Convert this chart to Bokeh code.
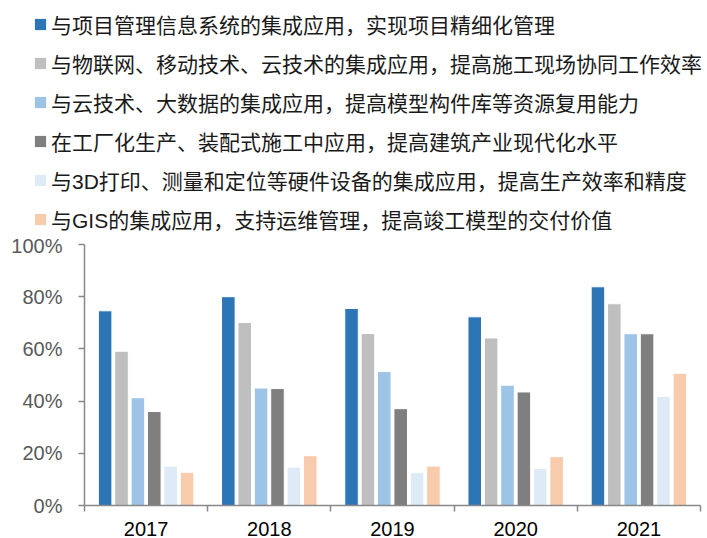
from bokeh.plotting import figure
from bokeh.layouts import column
from bokeh.models import (ColumnDataSource, FixedTicker, NumeralTickFormatter,
                          Legend, LegendItem, Range1d)
from bokeh.embed import file_html
from bokeh.resources import INLINE

years = ["2017", "2018", "2019", "2020", "2021"]
series_names = [
    "与项目管理信息系统的集成应用，实现项目精细化管理",
    "与物联网、移动技术、云技术的集成应用，提高施工现场协同工作效率",
    "与云技术、大数据的集成应用，提高模型构件库等资源复用能力",
    "在工厂化生产、装配式施工中应用，提高建筑产业现代化水平",
    "与3D打印、测量和定位等硬件设备的集成应用，提高生产效率和精度",
    "与GIS的集成应用，支持运维管理，提高竣工模型的交付价值",
]
s1 = [74.6, 80.0, 75.5, 72.3, 83.8]
s2 = [59.1, 70.1, 65.9, 64.2, 77.3]
s3 = [41.3, 45.0, 51.3, 46.1, 65.8]
s4 = [36.0, 44.8, 37.1, 43.5, 65.8]
s5 = [15.1, 14.7, 12.6, 14.2, 41.8]
s6 = [12.7, 19.1, 15.1, 18.7, 50.7]
series_values = [s1, s2, s3, s4, s5, s6]
colors = ["#2E75B6", "#BFBFBF", "#9DC3E6", "#7F7F7F", "#DEEBF7", "#F8CBAD"]
y_ticks = [0, 0.2, 0.4, 0.6, 0.8, 1.0]

W = 707
LEG_H = 234
CH_H = 538 - LEG_H

pitch = 0.133
bar_w = 0.11
sources = []
for k, vals in enumerate(series_values):
    off = (k - 2.5) * pitch
    sources.append(ColumnDataSource(dict(
        x=[i + 0.5 + off for i in range(len(years))],
        top=[v / 100.0 for v in vals])))

# ---- legend panel (own figure, frame = whole canvas) ----
lf = figure(width=W, height=LEG_H, output_backend="svg", toolbar_location=None,
            x_range=Range1d(-3, -2), y_range=Range1d(0, 1),
            x_axis_type=None, y_axis_type=None, min_border=0)
lf.frame_align = False
lf.outline_line_color = None
lf.xgrid.visible = False
lf.ygrid.visible = False
litems = []
for name, col, src in zip(series_names, colors, sources):
    r = lf.vbar(x="x", top="top", width=bar_w, source=src,
                fill_color=col, line_color=None)
    litems.append(LegendItem(label=name, renderers=[r], index=0))
legend = Legend(items=litems, location=(33, 0), orientation="vertical",
                glyph_width=14, glyph_height=14, label_standoff=4,
                label_height=22, spacing=9, padding=0, margin=0,
                label_text_font="'Liberation Sans', 'Noto Sans CJK SC'",
                label_text_font_size="21px", label_text_color="#1a1a1a",
                border_line_color=None, background_fill_alpha=0)
lf.add_layout(legend, "center")

# ---- chart ----
p = figure(width=W, height=CH_H, output_backend="svg", toolbar_location=None,
           x_range=Range1d(0, len(years)), y_range=Range1d(0, 1.0),
           min_border_left=84, min_border_right=7, min_border_top=10,
           min_border_bottom=33)
p.frame_align = False
p.outline_line_color = None
p.xgrid.visible = False
p.ygrid.visible = False

for col, src in zip(colors, sources):
    p.vbar(x="x", top="top", width=bar_w, bottom=0, source=src,
           fill_color=col, line_color="white", line_width=1)

axis_col = "#898989"
p.xaxis.ticker = FixedTicker(ticks=[i + 0.5 for i in range(len(years))],
                             minor_ticks=list(range(len(years) + 1)))
p.xaxis.major_label_overrides = {i + 0.5: y for i, y in enumerate(years)}
p.xaxis.major_tick_out = 0
p.xaxis.major_tick_in = 0
p.xaxis.minor_tick_out = 6
p.xaxis.minor_tick_in = 0
p.xaxis.minor_tick_line_color = axis_col
p.xaxis.minor_tick_line_width = 1.5
p.xaxis.axis_line_color = axis_col
p.xaxis.axis_line_width = 1.5
p.xaxis.major_label_text_font = "Liberation Sans"
p.xaxis.major_label_text_font_size = "20px"
p.xaxis.major_label_text_color = "#000000"
p.xaxis.major_label_standoff = 10

p.yaxis.ticker = FixedTicker(ticks=y_ticks)
p.yaxis.formatter = NumeralTickFormatter(format="0%")
p.yaxis.major_tick_out = 6
p.yaxis.major_tick_in = 0
p.yaxis.minor_tick_out = 0
p.yaxis.minor_tick_in = 0
p.yaxis.major_tick_line_color = axis_col
p.yaxis.major_tick_line_width = 1.5
p.yaxis.axis_line_color = axis_col
p.yaxis.axis_line_width = 1.5
p.yaxis.major_label_text_font = "Liberation Sans"
p.yaxis.major_label_text_font_size = "20px"
p.yaxis.major_label_text_color = "#595959"
p.yaxis.major_label_standoff = 16

layout = column(lf, p, spacing=0)
open("out.html", "w").write(file_html(layout, INLINE))
